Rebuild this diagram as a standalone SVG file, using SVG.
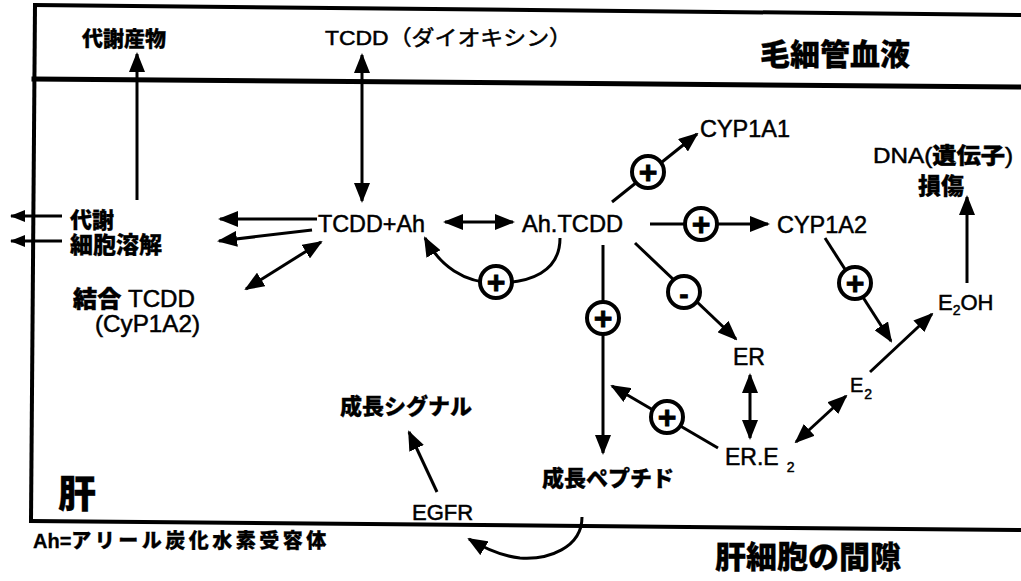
<svg xmlns="http://www.w3.org/2000/svg" width="1021" height="581" viewBox="0 0 1021 581">
<style>
.t{font-family:'Liberation Sans','Noto Sans CJK JP',sans-serif;fill:#000;stroke:#000;stroke-width:0.5}
.b{font-weight:900;stroke-width:0.3}
.ln{stroke:#000;stroke-width:3;fill:none}
.bx{stroke:#000;fill:none;stroke-linecap:square}
.ar{marker-end:url(#ah)}
.db{marker-start:url(#ah);marker-end:url(#ah)}
.sm{marker-end:url(#sh)}
.sg circle{fill:#fff;stroke:#000;stroke-width:4}
.sg text{font-family:'Liberation Sans',sans-serif;font-weight:bold;text-anchor:middle;stroke:#000;stroke-width:0.8}
</style>
<defs>
<marker id="ah" viewBox="0 0 20 16" markerWidth="20" markerHeight="16" refX="18" refY="8" orient="auto-start-reverse" markerUnits="userSpaceOnUse"><path d="M0,0 L20,8 L0,16 z" fill="#000"/></marker>
<marker id="sh" viewBox="0 0 15 12" markerWidth="15" markerHeight="12" refX="14" refY="6" orient="auto" markerUnits="userSpaceOnUse"><path d="M0,0 L15,6 L0,12 z" fill="#000"/></marker>
</defs>
<rect width="1021" height="581" fill="#fff"/>
<g id="frame">
<line class="bx" x1="35" y1="5" x2="1021" y2="15" stroke-width="4"/>
<line class="bx" x1="34" y1="79" x2="1021" y2="87" stroke-width="5"/>
<line class="bx" x1="31" y1="521" x2="1021" y2="530" stroke-width="4"/>
<line class="bx" x1="35" y1="5" x2="31" y2="521" stroke-width="4"/>
</g>
<g id="connectors">
<line class="ln ar" x1="137" y1="200" x2="137" y2="54"/>
<line class="ln db" x1="362" y1="55" x2="362" y2="201"/>
<line class="ln sm" x1="62" y1="216" x2="11" y2="216"/>
<line class="ln sm" x1="62" y1="241" x2="11" y2="241"/>
<line class="ln ar" x1="317" y1="219" x2="220" y2="219"/>
<line class="ln ar" x1="312" y1="230" x2="219" y2="241"/>
<line class="ln db" x1="321" y1="242" x2="246" y2="289"/>
<line class="ln db" x1="445" y1="222" x2="513" y2="222"/>
<path class="ln ar" d="M560,238 C560,272 530,283 496,283 C464,283 440,266 425,238"/>
<line class="ln ar" x1="612" y1="202" x2="697" y2="134"/>
<line class="ln ar" x1="650" y1="224" x2="768" y2="224"/>
<line class="ln ar" x1="635" y1="243" x2="736" y2="339"/>
<line class="ln ar" x1="603" y1="245" x2="603" y2="453"/>
<line class="ln ar" x1="718" y1="448" x2="612" y2="386"/>
<line class="ln db" x1="750" y1="375" x2="750" y2="438"/>
<line class="ln db" x1="796" y1="442" x2="846" y2="396"/>
<line class="ln ar" x1="825" y1="238" x2="891" y2="341"/>
<line class="ln ar" x1="870" y1="372" x2="932" y2="314"/>
<line class="ln ar" x1="967" y1="283" x2="967" y2="197"/>
<line class="ln ar" x1="437" y1="492" x2="409" y2="432"/>
<path class="ln ar" d="M582,517 C582,548 548,560 520,558 C500,556 484,548 469,539"/>
</g>
<g id="signs" class="sg">
<g id="s1"><circle cx="496" cy="282" r="16"/><text x="496" y="293" font-size="32">+</text></g>
<g id="s2"><circle cx="648" cy="172" r="16"/><text x="648" y="183" font-size="32">+</text></g>
<g id="s3"><circle cx="701" cy="224" r="16"/><text x="701" y="235" font-size="32">+</text></g>
<g id="s4"><circle cx="684" cy="292" r="16"/><text x="684" y="304" font-size="28">-</text></g>
<g id="s5"><circle cx="603" cy="318" r="16"/><text x="603" y="329" font-size="32">+</text></g>
<g id="s6"><circle cx="667" cy="417" r="16"/><text x="667" y="428" font-size="32">+</text></g>
<g id="s7"><circle cx="855" cy="283" r="16"/><text x="855" y="294" font-size="32">+</text></g>
</g>
<g id="n-metabolite"><text class="t b" x="82" y="46" font-size="21">代謝産物</text></g>
<g id="n-tcdd"><text class="t" x="325" y="45" font-size="21" textLength="247" lengthAdjust="spacingAndGlyphs">TCDD（ダイオキシン）</text></g>
<g id="n-blood"><text class="t b" x="760" y="65" font-size="30">毛細管血液</text></g>
<g id="n-metab"><text class="t b" x="70" y="228" font-size="22">代謝</text></g>
<g id="n-lysis"><text class="t b" x="70" y="253" font-size="23">細胞溶解</text></g>
<g id="n-tcddah"><text class="t" x="318" y="232" font-size="24" textLength="107" lengthAdjust="spacingAndGlyphs">TCDD+Ah</text></g>
<g id="n-bound"><text class="t" x="73" y="307" font-size="23" textLength="122" lengthAdjust="spacingAndGlyphs"><tspan font-weight="900">結合</tspan> TCDD</text><text class="t" x="95" y="332" font-size="24" textLength="105" lengthAdjust="spacingAndGlyphs">(CyP1A2)</text></g>
<g id="n-ahtcdd"><text class="t" x="522" y="232" font-size="24" textLength="101" lengthAdjust="spacingAndGlyphs">Ah.TCDD</text></g>
<g id="n-cyp1a1"><text class="t" x="700" y="137" font-size="24" textLength="90" lengthAdjust="spacingAndGlyphs">CYP1A1</text></g>
<g id="n-cyp1a2"><text class="t" x="777" y="233" font-size="24" textLength="90" lengthAdjust="spacingAndGlyphs">CYP1A2</text></g>
<g id="n-dna"><text class="t" x="873" y="163" font-size="22" textLength="140" lengthAdjust="spacingAndGlyphs">DNA(<tspan font-weight="900">遺伝子</tspan>)</text><text class="t b" x="918" y="194" font-size="23">損傷</text></g>
<g id="n-e2oh"><text class="t" x="938" y="310" font-size="22">E<tspan font-size="14" dy="5">2</tspan><tspan dy="-5">OH</tspan></text></g>
<g id="n-er"><text class="t" x="733" y="365" font-size="23">ER</text></g>
<g id="n-ere2"><text class="t" x="725" y="465" font-size="23">ER.E<tspan font-size="14" dx="8" dy="7">2</tspan></text></g>
<g id="n-e2"><text class="t" x="850" y="392" font-size="20">E<tspan font-size="14" dx="1" dy="7">2</tspan></text></g>
<g id="n-peptide"><text class="t b" x="542" y="486" font-size="22">成長ペプチド</text></g>
<g id="n-signal"><text class="t b" x="340" y="414" font-size="22">成長シグナル</text></g>
<g id="n-egfr"><text class="t" x="412" y="520" font-size="22">EGFR</text></g>
<g id="n-liver"><text class="t b" x="58" y="507" font-size="38">肝</text></g>
<g id="n-legend"><text class="t b" x="33" y="548" font-size="20">Ah=<tspan letter-spacing="3.5">アリール炭化水素受容体</tspan></text></g>
<g id="n-interstice"><text class="t b" x="715" y="568" font-size="31">肝細胞の間隙</text></g>
</svg>
